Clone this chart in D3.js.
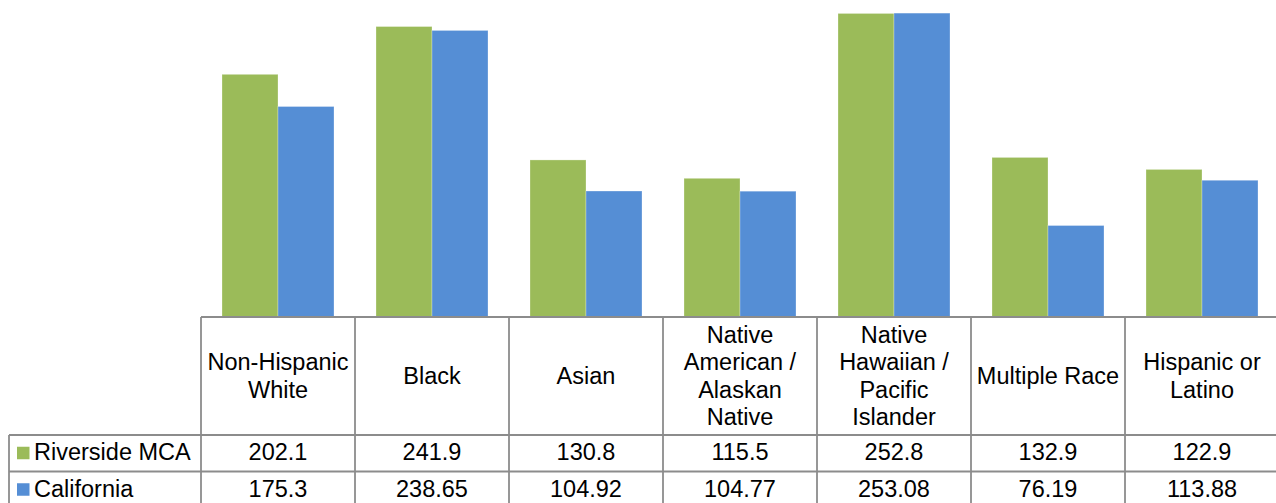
<!DOCTYPE html>
<html>
<head>
<meta charset="utf-8">
<script src="https://cdn.jsdelivr.net/npm/d3@7"></script>
<style>
  html, body { margin: 0; padding: 0; background: #fff; }
  svg { display: block; }
  text { font-family: "Liberation Sans", Arial, sans-serif; fill: #000; }
</style>
</head>
<body>
<div id="chart"></div>
<script>
const categories = [
  ["Non-Hispanic", "White"],
  ["Black"],
  ["Asian"],
  ["Native", "American /", "Alaskan", "Native"],
  ["Native", "Hawaiian /", "Pacific", "Islander"],
  ["Multiple Race"],
  ["Hispanic or", "Latino"]
];
const seriesNames = ["Riverside MCA", "California"];
const riverside = [202.1, 241.9, 130.8, 115.5, 252.8, 132.9, 122.9];
const california = [175.3, 238.65, 104.92, 104.77, 253.08, 76.19, 113.88];
const seriesColors = ["#9bbb59", "#558ed5"];

(function () {
  const w = 1276;
  const h = 503;
  const plotLeft = 201;
  const baseline = 317;
  const headerBottom = 435;
  const rowH = 36.5;
  const legendLeft = 9;
  const fontSize = 23.5;
  const lineGap = 27.3;
  const gridColor = "#8c8c8c";

  const svg = d3.select("#chart")
    .append("svg")
    .attr("width", w)
    .attr("height", h);

  const keys = categories.map(c => c.join(" "));
  const values = [riverside, california];

  // table runs a little past the right edge, like the original
  const xScale = d3.scaleBand()
    .domain(keys)
    .range([plotLeft, plotLeft + 7 * 154])
    .padding(0);

  const xInner = d3.scaleBand()
    .domain(seriesNames)
    .range([0, xScale.bandwidth()])
    .paddingInner(0)
    .paddingOuter(0.375);

  const yScale = d3.scaleLinear()
    .domain([0, 264])
    .range([baseline, 0]);

  // bars
  seriesNames.forEach((s, si) => {
    svg.selectAll("rect.bar-" + si)
      .data(values[si])
      .join("rect")
        .attr("class", "bar-" + si)
        .attr("x", (d, i) => xScale(keys[i]) + xInner(s))
        .attr("y", d => yScale(d))
        .attr("width", xInner.bandwidth())
        .attr("height", d => yScale(0) - yScale(d))
        .attr("fill", seriesColors[si])
        .attr("stroke", "rgba(255,255,255,0.35)")
        .attr("stroke-width", 0.8);
  });

  // data table grid
  const grid = svg.append("g")
    .attr("stroke", gridColor)
    .attr("stroke-width", 1.8)
    .attr("fill", "none");

  const right = xScale.range()[1];
  const tableBottom = headerBottom + rowH * 2;

  grid.append("line")
    .attr("x1", plotLeft).attr("x2", right)
    .attr("y1", baseline).attr("y2", baseline);

  [headerBottom, headerBottom + rowH, tableBottom].forEach(y => {
    grid.append("line")
      .attr("x1", legendLeft).attr("x2", right)
      .attr("y1", y).attr("y2", y);
  });

  grid.append("line")
    .attr("x1", legendLeft).attr("x2", legendLeft)
    .attr("y1", headerBottom).attr("y2", tableBottom);

  keys.forEach(k => {
    grid.append("line")
      .attr("x1", xScale(k)).attr("x2", xScale(k))
      .attr("y1", baseline).attr("y2", tableBottom);
  });

  // header labels
  const headerMid = (baseline + headerBottom) / 2;
  const headers = svg.selectAll("text.header")
    .data(categories)
    .join("text")
      .attr("class", "header")
      .attr("text-anchor", "middle")
      .style("font-size", fontSize + "px");

  headers.selectAll("tspan")
    .data((d, i) => d.map((line, j) => ({ line, j, n: d.length, i })))
    .join("tspan")
      .attr("x", d => xScale(keys[d.i]) + xScale.bandwidth() / 2)
      .attr("y", d => headerMid + (d.j - (d.n - 1) / 2) * lineGap + 8)
      .text(d => d.line);

  // rows with legend keys
  seriesNames.forEach((s, si) => {
    const rowMid = headerBottom + rowH * si + rowH / 2;

    svg.append("rect")
      .attr("x", 17)
      .attr("y", rowMid - 6.5)
      .attr("width", 12.5)
      .attr("height", 12.5)
      .attr("fill", seriesColors[si]);

    svg.append("text")
      .attr("x", 34)
      .attr("y", rowMid + 7)
      .style("font-size", fontSize + "px")
      .text(s);

    svg.selectAll("text.val-" + si)
      .data(values[si])
      .join("text")
        .attr("class", "val-" + si)
        .attr("text-anchor", "middle")
        .attr("x", (d, i) => xScale(keys[i]) + xScale.bandwidth() / 2)
        .attr("y", rowMid + 7)
        .style("font-size", fontSize + "px")
        .text(d => String(d));
  });
})();
</script>
</body>
</html>
